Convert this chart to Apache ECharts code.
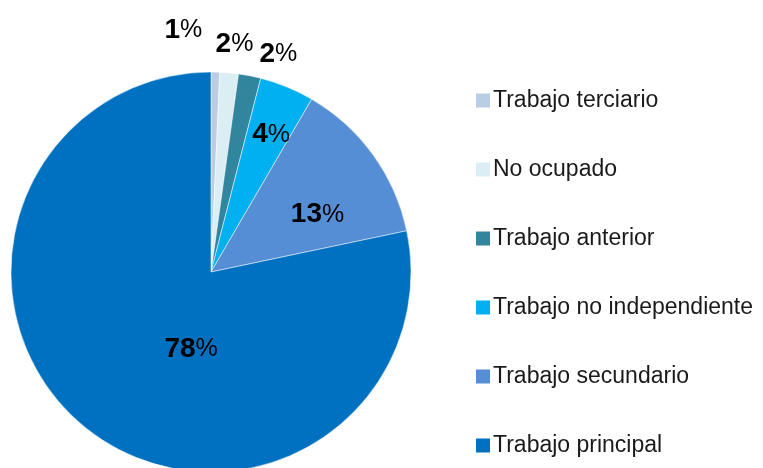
<!DOCTYPE html>
<html>
<head>
<meta charset="utf-8">
<script src="https://cdn.jsdelivr.net/npm/echarts@6/dist/echarts.min.js"></script>
<style>
  html, body { margin: 0; padding: 0; background: #fff; }
  #chart { width: 763px; height: 468px; }
</style>
</head>
<body>
<div id="chart"></div>
<script>
// data (share in %)
var categories = ['Trabajo terciario', 'No ocupado', 'Trabajo anterior',
                  'Trabajo no independiente', 'Trabajo secundario', 'Trabajo principal'];
var values = [0.7, 1.5, 1.8, 4.4, 13.3, 78.3];
var colors = ['#B9CDE5', '#DBEEF4', '#31859C', '#00B0F0', '#558ED5', '#0070C0'];
var labelPos = ['outside', 'outside', 'outside', 'inside', 'inside', 'inside'];

// small nudges so labels sit where the original puts them
var labelShift = [[-56, -38], [-19, -25], [4, -18], [21, -42], [23, 3], [45, -3]];

var pieData = [];
for (var i = 0; i < categories.length; i++) {
  pieData.push({
    name: categories[i],
    value: values[i],
    itemStyle: { color: colors[i] },
    label: { position: labelPos[i] },
    labelLine: { show: false }
  });
}

var option = {
  animation: false,
  backgroundColor: '#fff',
  legend: {
    orient: 'vertical',
    left: 474,
    top: 89,
    padding: 0,
    itemWidth: 16,
    itemHeight: 16,
    itemGap: 46,
    icon: 'rect',
    data: categories,
    textStyle: {
      fontFamily: 'Liberation Sans',
      fontSize: 23,
      color: '#1a1a1a',
      padding: [0, 0, 0, -3]
    }
  },
  series: [{
    type: 'pie',
    center: [211, 272],
    radius: 200,
    startAngle: 90,
    clockwise: true,
    avoidLabelOverlap: false,
    itemStyle: { borderColor: '#fff', borderWidth: 0.5 },
    label: {
      show: true,
      formatter: function (p) {
        return '{b|' + Math.round(p.percent) + '}{p|%}';
      },
      rich: {
        b: { fontFamily: 'Liberation Sans', fontSize: 28, fontWeight: 'bold', color: '#000' },
        p: { fontFamily: 'Liberation Sans', fontSize: 25, color: '#000' }
      }
    },
    labelLine: { show: false, length: 4, length2: 0 },
    labelLayout: function (params) {
      var s = labelShift[params.dataIndex];
      return { dx: s[0], dy: s[1] };
    },
    data: pieData
  }]
};

var myChart = echarts.init(document.getElementById('chart'));
myChart.setOption(option);
</script>
</body>
</html>
